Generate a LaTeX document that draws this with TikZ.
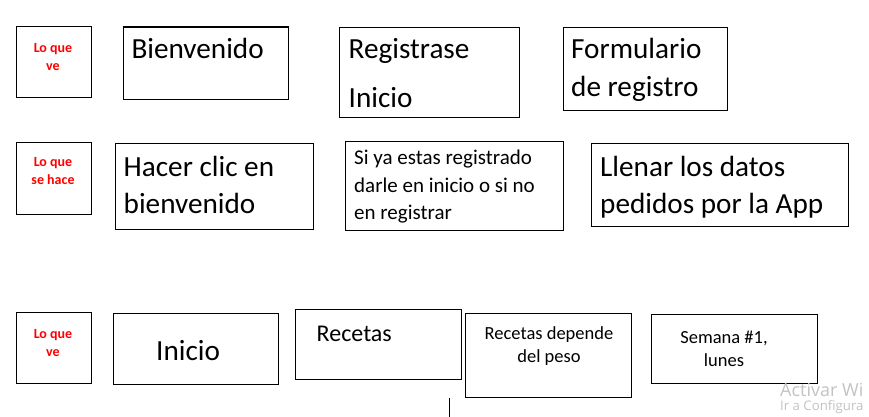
\documentclass[tikz,border=0pt]{standalone}
\usepackage{fontspec}
\setmainfont{Carlito}
\newfontfamily\wmfont{Open Sans}
\definecolor{wmgray}{RGB}{195,195,195}
\definecolor{lblred}{RGB}{255,0,0}
\begin{document}
\begin{tikzpicture}[x=1pt,y=-1pt,
  box/.style={draw=black,line width=1.05pt,inner sep=0pt,anchor=north west,fill=none},
  lbl/.style={inner sep=0pt,anchor=base,text=lblred,font=\bfseries\fontsize{14}{17}\selectfont},
  big/.style={inner sep=0pt,anchor=base west,font=\fontsize{29.2}{35}\selectfont},
  mid/.style={inner sep=0pt,anchor=base west,font=\fontsize{21}{25}\selectfont},
  med/.style={inner sep=0pt,anchor=base west,font=\fontsize{24}{28}\selectfont},
  sml/.style={inner sep=0pt,anchor=base,font=\fontsize{18.5}{22}\selectfont},
  wm/.style={inner sep=0pt,anchor=base west,text=wmgray}]
\clip (0,0) rectangle (869,417);
\fill[white] (0,0) rectangle (869,417);

% ---------- row 1 ----------
\node[box,minimum width=75pt,minimum height=71pt] (r1a) at (15.5,26) {};
\node[lbl] (r1a1) at (53,52.3) {Lo que};
\node[lbl] (r1a2) at (53,70.7) {ve};

\node[box,minimum width=165pt,minimum height=72pt] (r1b) at (122.5,27) {};
\draw[line width=2pt] (r1b.north west) -- (r1b.north east);
\node[big] (r1b1) at (131.3,58.5) {Bienvenido};

\node[box,minimum width=180pt,minimum height=89.5pt] (r1c) at (339.3,27.3) {};
\node[big] (r1c1) at (348.5,58.5) {Registrase};
\node[big] (r1c2) at (348.5,107) {Inicio};

\node[box,minimum width=164pt,minimum height=82.5pt] (r1d) at (562.7,27.3) {};
\node[big] (r1d1) at (571,59) {Formulario};
\node[big] (r1d2) at (571,96) {de registro};

% ---------- row 2 ----------
\node[box,minimum width=75pt,minimum height=72.5pt] (r2a) at (15.5,141.5) {};
\node[lbl] (r2a1) at (53,166.5) {Lo que};
\node[lbl] (r2a2) at (53,184.5) {se hace};

\node[box,minimum width=198pt,minimum height=86pt] (r2b) at (115,143.3) {};
\node[big] (r2b1) at (123.5,176) {Hacer clic en};
\node[big] (r2b2) at (123.5,213) {bienvenido};

\node[box,minimum width=218pt,minimum height=89.5pt] (r2c) at (345,140.7) {};
\node[mid] (r2c1) at (354,164.5) {Si ya estas registrado};
\node[mid] (r2c2) at (354,192) {darle en inicio o si no};
\node[mid] (r2c3) at (354,219.5) {en registrar};

\node[box,minimum width=256.7pt,minimum height=83.3pt] (r2d) at (591.3,142.7) {};
\node[big] (r2d1) at (600,176.5) {Llenar los datos};
\node[big] (r2d2) at (600,213) {pedidos por la App};

% ---------- row 3 ----------
\node[box,minimum width=75pt,minimum height=71pt] (r3a) at (15.5,312) {};
\node[lbl] (r3a1) at (53,338.3) {Lo que};
\node[lbl] (r3a2) at (53,356.7) {ve};

\node[box,minimum width=165pt,minimum height=71pt] (r3b) at (112.5,313.3) {};
\node[big] (r3b1) at (156,360) {Inicio};

\node[box,minimum width=166pt,minimum height=70pt] (r3c) at (295.3,309.3) {};
\node[med] (r3c1) at (316.5,341) {Recetas};

\node[box,minimum width=166pt,minimum height=83.3pt] (r3d) at (465.3,313.3) {};
\node[sml] (r3d1) at (549,339.5) {Recetas depende};
\node[sml] (r3d2) at (549,362.5) {del peso};

\node[box,minimum width=166pt,minimum height=69.5pt] (r3e) at (651.3,313.8) {};
\node[sml] (r3e1) at (724,343) {Semana \#1,};
\node[sml] (r3e2) at (724,366) {lunes};

% stub line below
\coordinate (s1) at (449.7,397.7);
\coordinate (s2) at (449.7,417);
\draw[line width=1.05pt] (s1) -- (s2);

% watermark (as visible)
\node[wm,font=\wmfont\fontsize{18}{21}\selectfont] (wm1) at (780,396.7) {Activar Wi};
\node[wm,font=\wmfont\fontsize{13.2}{15}\selectfont] (wm2) at (780,410.5) {Ir a Configura};
\end{tikzpicture}
\end{document}
